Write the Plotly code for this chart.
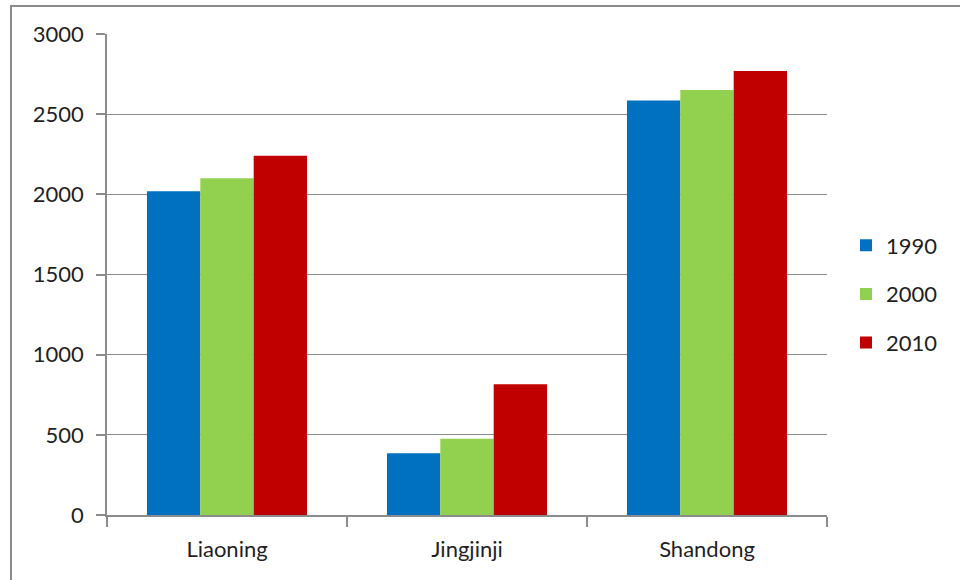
import plotly.graph_objects as go

regions = ["Liaoning", "Jingjinji", "Shandong"]
years = ["1990", "2000", "2010"]
values_1990 = [2020, 385, 2585]
values_2000 = [2100, 475, 2650]
values_2010 = [2240, 815, 2770]
y_ticks = [0, 500, 1000, 1500, 2000, 2500, 3000]

series = [values_1990, values_2000, values_2010]
colors = ["#0070C0", "#92D050", "#C00000"]

FONT = "Lato, 'Open Sans', sans-serif"
GRID = "#8C8C8C"
TEXT = "#1F1F1F"

fig = go.Figure()
for year, vals, col in zip(years, series, colors):
    fig.add_trace(go.Bar(
        x=regions, y=vals, name=year, legendgroup=year,
        marker=dict(color=col, line=dict(width=0)),
    ))

W, H = 960, 580
L, R, T, B = 107, 133, 34, 65
pw, ph = W - L - R, H - T - B

def px_x(p):
    return (p - L) / pw

def px_y(p):
    return 1 - (p - T) / ph

fig.update_layout(
    width=W, height=H,
    margin=dict(l=L, r=R, t=T, b=B, pad=0),
    paper_bgcolor="white", plot_bgcolor="white",
    barmode="group", bargap=0.333, bargroupgap=0,
    font=dict(family=FONT, size=22, color=TEXT),
    showlegend=True,
    legend=dict(
        x=px_x(846), y=px_y(294), xanchor="left", yanchor="middle",
        tracegroupgap=17, font=dict(size=22, color=TEXT),
        bgcolor="rgba(0,0,0,0)",
    ),
    xaxis=dict(
        showline=True, linecolor=GRID, linewidth=1.5,
        ticks="outside", tickson="boundaries", ticklen=10, tickcolor=GRID, tickwidth=1.5,
        ticklabelstandoff=14, showgrid=False,
    ),
    yaxis=dict(
        range=[0, 3000], tickvals=y_ticks,
        showline=True, linecolor=GRID, linewidth=1.5,
        ticks="outside", ticklen=9, tickcolor=GRID, tickwidth=1.5,
        showgrid=True, gridcolor=GRID, gridwidth=1,
        zeroline=False, ticklabelstandoff=8,
    ),
    shapes=[dict(
        type="rect", xref="paper", yref="paper",
        x0=px_x(11), x1=px_x(975), y0=px_y(600), y1=px_y(6),
        line=dict(color="#8A8A8A", width=2), fillcolor="rgba(0,0,0,0)",
        layer="below",
    )],
)

fig.write_html("out.html")
